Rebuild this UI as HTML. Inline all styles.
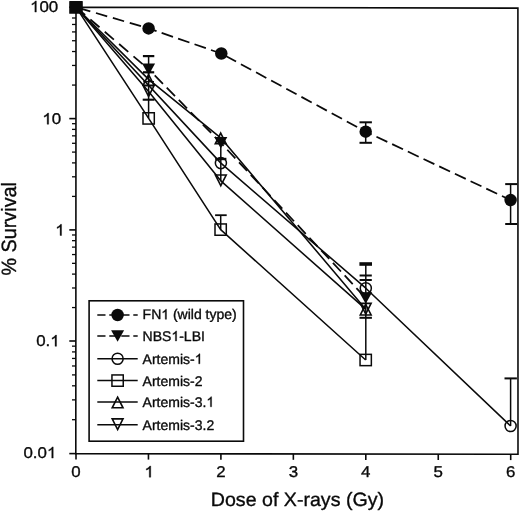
<!DOCTYPE html><html><head><meta charset="utf-8"><style>html,body{margin:0;padding:0;background:#fff}svg{display:block;will-change:transform}.h{fill:none;stroke:none}text{font-family:"Liberation Sans",sans-serif;fill:#0a0a0a;stroke:#0a0a0a;stroke-width:0.35px;stroke-linejoin:round;text-rendering:geometricPrecision}</style></head><body>
<svg width="520" height="512" viewBox="0 0 520 512">
<rect width="520" height="512" fill="#fff"/>
<g stroke="#0a0a0a" fill="none" stroke-width="1.6" stroke-linecap="butt">
<path d="M76,7.2 L517.9,8.1 L518,454.2 L75.8,453.6 Z"/>
<path d="M69.3,7.20 H76"/>
<path d="M72,85.07 H76" stroke-width="1.3"/>
<path d="M72,65.45 H76" stroke-width="1.3"/>
<path d="M72,51.53 H76" stroke-width="1.3"/>
<path d="M72,40.73 H76" stroke-width="1.3"/>
<path d="M72,31.91 H76" stroke-width="1.3"/>
<path d="M72,24.46 H76" stroke-width="1.3"/>
<path d="M72,18.00 H76" stroke-width="1.3"/>
<path d="M72,12.30 H76" stroke-width="1.3"/>
<path d="M69.3,118.60 H76"/>
<path d="M72,196.40 H76" stroke-width="1.3"/>
<path d="M72,176.80 H76" stroke-width="1.3"/>
<path d="M72,162.89 H76" stroke-width="1.3"/>
<path d="M72,152.10 H76" stroke-width="1.3"/>
<path d="M72,143.29 H76" stroke-width="1.3"/>
<path d="M72,135.84 H76" stroke-width="1.3"/>
<path d="M72,129.39 H76" stroke-width="1.3"/>
<path d="M72,123.69 H76" stroke-width="1.3"/>
<path d="M69.3,229.90 H76"/>
<path d="M72,307.56 H76" stroke-width="1.3"/>
<path d="M72,287.99 H76" stroke-width="1.3"/>
<path d="M72,274.11 H76" stroke-width="1.3"/>
<path d="M72,263.34 H76" stroke-width="1.3"/>
<path d="M72,254.55 H76" stroke-width="1.3"/>
<path d="M72,247.11 H76" stroke-width="1.3"/>
<path d="M72,240.67 H76" stroke-width="1.3"/>
<path d="M72,234.98 H76" stroke-width="1.3"/>
<path d="M69.3,341.00 H76"/>
<path d="M72,419.70 H76" stroke-width="1.3"/>
<path d="M72,399.88 H76" stroke-width="1.3"/>
<path d="M72,385.81 H76" stroke-width="1.3"/>
<path d="M72,374.90 H76" stroke-width="1.3"/>
<path d="M72,365.98 H76" stroke-width="1.3"/>
<path d="M72,358.44 H76" stroke-width="1.3"/>
<path d="M72,351.91 H76" stroke-width="1.3"/>
<path d="M72,346.15 H76" stroke-width="1.3"/>
<path d="M69.3,453.60 H76"/>
<path d="M76.00,453.60 V459.50"/>
<path d="M148.45,453.70 V459.60"/>
<path d="M220.90,453.80 V459.70"/>
<path d="M293.35,453.90 V459.80"/>
<path d="M365.80,453.99 V459.89"/>
<path d="M438.25,454.09 V459.99"/>
<path d="M510.70,454.19 V460.09"/>
</g>
<g stroke="#0a0a0a" fill="none" stroke-width="1.55" stroke-linejoin="round">
<path d="M76,7.2 L148.6,28.4" stroke-dasharray="11.7 5.9" stroke-dashoffset="-3.2" stroke-width="1.75"/>
<path d="M148.6,28.4 L221.2,53.5" stroke-dasharray="12.0 5.4" stroke-dashoffset="3.6" stroke-width="1.75"/>
<path d="M221.2,53.5 L365.7,131.65" stroke-dasharray="11.7 5.5" stroke-dashoffset="-5.2" stroke-width="1.75"/>
<path d="M365.7,131.65 L510.6,200.1" stroke-dasharray="12.0 5.35" stroke-dashoffset="-11.9" stroke-width="1.75"/>
<path d="M76,7.2 L148.6,69.2" stroke-dasharray="12.0 6.9" stroke-dashoffset="0" stroke-width="1.75"/>
<path d="M148.6,69.2 L220.8,142.8" stroke-dasharray="11.8 5.4" stroke-dashoffset="-8.7" stroke-width="1.75"/>
<path d="M220.8,142.8 L365.7,298" stroke-dasharray="11.8 5.4" stroke-dashoffset="-9.5" stroke-width="1.75"/>
<path d="M76,7.2 L220.9,163.1 L365.8,288.2 L510.6,426"/>
<path d="M76,7.2 L148.65,118.4 L220.65,229.6 L365.7,360"/>
<path d="M76,7.2 L148.6,79.4 L220.7,137.85 L365.7,309.2"/>
<path d="M76,7.2 L148.6,91.6 L220.8,180.85 L365.7,309.2"/>
</g>
<g stroke="#0a0a0a" fill="none">
<path d="M148.60,56.10 V118.20" stroke-width="1.5"/>
<path d="M142.90,56.10 H154.30" stroke-width="2.2"/>
<path d="M143.00,72.30 H154.20" stroke-width="2.2"/>
<path d="M143.20,81.70 H154.00" stroke-width="1.3"/>
<path d="M142.70,99.70 H154.50" stroke-width="2.1"/>
<path d="M220.80,146.00 V181.00" stroke-width="1.5"/>
<path d="M215.20,159.00 H226.40" stroke-width="2.4"/>
<path d="M220.70,215.20 V229.60" stroke-width="1.5"/>
<path d="M215.10,215.20 H226.70" stroke-width="1.8"/>
<path d="M365.80,264.00 V360.00" stroke-width="1.5"/>
<path d="M359.40,264.00 H372.00" stroke-width="3.6"/>
<path d="M359.60,275.50 H371.80" stroke-width="2.0"/>
<path d="M359.60,280.00 H371.80" stroke-width="2.0"/>
<path d="M359.50,317.80 H371.90" stroke-width="2.0"/>
<path d="M365.70,122.30 V142.80" stroke-width="1.5"/>
<path d="M359.50,122.30 H371.90" stroke-width="2.0"/>
<path d="M359.50,142.80 H371.90" stroke-width="2.0"/>
<path d="M510.60,184.10 V224.00" stroke-width="1.5"/>
<path d="M505.20,184.10 H517.20" stroke-width="2.0"/>
<path d="M505.20,224.00 H517.20" stroke-width="2.0"/>
<path d="M510.60,378.40 V426.00" stroke-width="1.5"/>
<path d="M504.50,378.40 H516.90" stroke-width="2.0"/>
</g>
<rect x="69.2" y="0.9" width="13.6" height="12.9" rx="0.6" fill="#0a0a0a"/>
<circle cx="148.6" cy="28.4" r="6.25" fill="#0a0a0a"/>
<circle cx="221.3" cy="53.5" r="6.25" fill="#0a0a0a"/>
<circle cx="365.7" cy="131.65" r="6.25" fill="#0a0a0a"/>
<circle cx="510.6" cy="200.1" r="6.25" fill="#0a0a0a"/>
<path d="M148.60,75.00 L155.10,63.40 L142.10,63.40 Z" fill="#0a0a0a"/>
<path d="M220.80,148.60 L227.30,137.00 L214.30,137.00 Z" fill="#0a0a0a"/>
<path d="M365.70,303.80 L372.20,292.20 L359.20,292.20 Z" fill="#0a0a0a"/>
<circle cx="220.9" cy="163.1" r="5.55" fill="none" stroke="#0a0a0a" stroke-width="1.5"/>
<circle cx="365.8" cy="288.2" r="5.55" fill="none" stroke="#0a0a0a" stroke-width="1.5"/>
<circle cx="510.6" cy="426" r="5.55" fill="none" stroke="#0a0a0a" stroke-width="1.5"/>
<rect x="143.00" y="112.75" width="11.3" height="11.3" fill="none" stroke="#0a0a0a" stroke-width="1.5"/>
<rect x="215.00" y="223.95" width="11.3" height="11.3" fill="none" stroke="#0a0a0a" stroke-width="1.5"/>
<rect x="360.05" y="354.35" width="11.3" height="11.3" fill="none" stroke="#0a0a0a" stroke-width="1.5"/>
<path d="M148.60,74.58 L154.00,85.18 L143.20,85.18 Z" fill="none" stroke="#0a0a0a" stroke-width="1.6" stroke-linejoin="miter"/>
<path d="M220.70,133.03 L226.10,143.63 L215.30,143.63 Z" fill="none" stroke="#0a0a0a" stroke-width="1.6" stroke-linejoin="miter"/>
<path d="M365.70,304.38 L371.10,314.98 L360.30,314.98 Z" fill="none" stroke="#0a0a0a" stroke-width="1.6" stroke-linejoin="miter"/>
<path d="M148.60,96.42 L154.00,85.82 L143.20,85.82 Z" fill="none" stroke="#0a0a0a" stroke-width="1.6" stroke-linejoin="miter"/>
<path d="M220.80,185.67 L226.20,175.07 L215.40,175.07 Z" fill="none" stroke="#0a0a0a" stroke-width="1.6" stroke-linejoin="miter"/>
<path d="M365.70,314.02 L371.10,303.42 L360.30,303.42 Z" fill="none" stroke="#0a0a0a" stroke-width="1.6" stroke-linejoin="miter"/>
<rect x="89.1" y="300.8" width="154.4" height="140.4" fill="#fff" stroke="#0a0a0a" stroke-width="1.6"/>
<path d="M97.3,315 H137.7" stroke="#0a0a0a" stroke-width="1.5" fill="none" stroke-dasharray="8.2 3.8"/>
<text x="142.6" y="319.30" font-size="14">FN<tspan class="h">1</tspan> (wild type)</text>
<path d="M97.3,336 H137.7" stroke="#0a0a0a" stroke-width="1.5" fill="none" stroke-dasharray="8.2 3.8"/>
<text x="142.6" y="341.00" font-size="14">NBS<tspan class="h">1</tspan>-LBI</text>
<path d="M97.3,358.75 H137.7" stroke="#0a0a0a" stroke-width="1.5" fill="none"/>
<text x="142.6" y="363.80" font-size="14">Artemis-<tspan class="h">1</tspan></text>
<path d="M97.3,380.6 H137.7" stroke="#0a0a0a" stroke-width="1.5" fill="none"/>
<text x="142.6" y="385.50" font-size="14">Artemis-2</text>
<path d="M97.3,402 H137.7" stroke="#0a0a0a" stroke-width="1.5" fill="none"/>
<text x="142.6" y="406.80" font-size="14">Artemis-3.<tspan class="h">1</tspan></text>
<path d="M97.3,424.7 H137.7" stroke="#0a0a0a" stroke-width="1.5" fill="none"/>
<text x="142.6" y="429.50" font-size="14">Artemis-3.2</text>
<circle cx="117.6" cy="315" r="6.25" fill="#0a0a0a"/>
<path d="M117.60,341.80 L124.10,330.20 L111.10,330.20 Z" fill="#0a0a0a"/>
<circle cx="117.6" cy="358.75" r="5.55" fill="none" stroke="#0a0a0a" stroke-width="1.5"/>
<rect x="111.95" y="374.95" width="11.3" height="11.3" fill="none" stroke="#0a0a0a" stroke-width="1.5"/>
<path d="M117.60,397.18 L123.00,407.78 L112.20,407.78 Z" fill="none" stroke="#0a0a0a" stroke-width="1.6" stroke-linejoin="miter"/>
<path d="M117.60,429.52 L123.00,418.92 L112.20,418.92 Z" fill="none" stroke="#0a0a0a" stroke-width="1.6" stroke-linejoin="miter"/>
<text transform="translate(30.06,12.1) scale(1.055,0.975)" font-size="16"><tspan class="h">1</tspan>00</text>
<text transform="translate(42.36,124.25) scale(1.055,0.975)" font-size="16"><tspan class="h">1</tspan>0</text>
<text transform="translate(55.26,235.5) scale(1.055,0.975)" font-size="16"><tspan class="h">1</tspan></text>
<text transform="translate(36.17,346.3) scale(1.055,0.975)" font-size="16">0.<tspan class="h">1</tspan></text>
<text transform="translate(23.47,458.1) scale(1.055,0.975)" font-size="16">0.0<tspan class="h">1</tspan></text>
<text transform="translate(76.00,477.2) scale(1.055,0.975)" font-size="16" text-anchor="middle">0</text>
<text transform="translate(149.15,477.2) scale(1.055,0.975)" font-size="16" text-anchor="middle"><tspan class="h">1</tspan></text>
<text transform="translate(220.90,477.2) scale(1.055,0.975)" font-size="16" text-anchor="middle">2</text>
<text transform="translate(293.35,477.2) scale(1.055,0.975)" font-size="16" text-anchor="middle">3</text>
<text transform="translate(365.80,477.2) scale(1.055,0.975)" font-size="16" text-anchor="middle">4</text>
<text transform="translate(438.25,477.2) scale(1.055,0.975)" font-size="16" text-anchor="middle">5</text>
<text transform="translate(510.70,477.2) scale(1.055,0.975)" font-size="16" text-anchor="middle">6</text>
<text transform="translate(210.8,505.9) scale(1.017,1)" font-size="19.3">Dose of X-rays (Gy)</text>
<text transform="translate(15.9,275.5) scale(1.045,1) rotate(-90)" font-size="19.8">% Survival</text>
<path transform=" translate(161.27,319.30) scale(0.006836,-0.006836)" d="M763,0 H583 V1147 Q518,1085 412.5,1023 T223,930 V1104 Q373,1174.5 485,1275 T644,1470 H763 Z" fill="#0a0a0a" stroke="#0a0a0a" stroke-width="0.35" vector-effect="non-scaling-stroke" stroke-linejoin="round"/>
<path transform=" translate(171.40,341.00) scale(0.006836,-0.006836)" d="M763,0 H583 V1147 Q518,1085 412.5,1023 T223,930 V1104 Q373,1174.5 485,1275 T644,1470 H763 Z" fill="#0a0a0a" stroke="#0a0a0a" stroke-width="0.35" vector-effect="non-scaling-stroke" stroke-linejoin="round"/>
<path transform=" translate(194.73,363.80) scale(0.006836,-0.006836)" d="M763,0 H583 V1147 Q518,1085 412.5,1023 T223,930 V1104 Q373,1174.5 485,1275 T644,1470 H763 Z" fill="#0a0a0a" stroke="#0a0a0a" stroke-width="0.35" vector-effect="non-scaling-stroke" stroke-linejoin="round"/>
<path transform=" translate(206.40,406.80) scale(0.006836,-0.006836)" d="M763,0 H583 V1147 Q518,1085 412.5,1023 T223,930 V1104 Q373,1174.5 485,1275 T644,1470 H763 Z" fill="#0a0a0a" stroke="#0a0a0a" stroke-width="0.35" vector-effect="non-scaling-stroke" stroke-linejoin="round"/>
<path transform="translate(30.06,12.1) scale(1.055,0.975) translate(0.00,0.00) scale(0.007812,-0.007812)" d="M763,0 H583 V1147 Q518,1085 412.5,1023 T223,930 V1104 Q373,1174.5 485,1275 T644,1470 H763 Z" fill="#0a0a0a" stroke="#0a0a0a" stroke-width="0.35" vector-effect="non-scaling-stroke" stroke-linejoin="round"/>
<path transform="translate(42.36,124.25) scale(1.055,0.975) translate(0.00,0.00) scale(0.007812,-0.007812)" d="M763,0 H583 V1147 Q518,1085 412.5,1023 T223,930 V1104 Q373,1174.5 485,1275 T644,1470 H763 Z" fill="#0a0a0a" stroke="#0a0a0a" stroke-width="0.35" vector-effect="non-scaling-stroke" stroke-linejoin="round"/>
<path transform="translate(55.26,235.5) scale(1.055,0.975) translate(0.00,0.00) scale(0.007812,-0.007812)" d="M763,0 H583 V1147 Q518,1085 412.5,1023 T223,930 V1104 Q373,1174.5 485,1275 T644,1470 H763 Z" fill="#0a0a0a" stroke="#0a0a0a" stroke-width="0.35" vector-effect="non-scaling-stroke" stroke-linejoin="round"/>
<path transform="translate(36.17,346.3) scale(1.055,0.975) translate(13.34,0.00) scale(0.007812,-0.007812)" d="M763,0 H583 V1147 Q518,1085 412.5,1023 T223,930 V1104 Q373,1174.5 485,1275 T644,1470 H763 Z" fill="#0a0a0a" stroke="#0a0a0a" stroke-width="0.35" vector-effect="non-scaling-stroke" stroke-linejoin="round"/>
<path transform="translate(23.47,458.1) scale(1.055,0.975) translate(22.25,0.00) scale(0.007812,-0.007812)" d="M763,0 H583 V1147 Q518,1085 412.5,1023 T223,930 V1104 Q373,1174.5 485,1275 T644,1470 H763 Z" fill="#0a0a0a" stroke="#0a0a0a" stroke-width="0.35" vector-effect="non-scaling-stroke" stroke-linejoin="round"/>
<path transform="translate(149.15,477.2) scale(1.055,0.975) translate(-4.45,0.00) scale(0.007812,-0.007812)" d="M763,0 H583 V1147 Q518,1085 412.5,1023 T223,930 V1104 Q373,1174.5 485,1275 T644,1470 H763 Z" fill="#0a0a0a" stroke="#0a0a0a" stroke-width="0.35" vector-effect="non-scaling-stroke" stroke-linejoin="round"/>
</svg></body></html>
